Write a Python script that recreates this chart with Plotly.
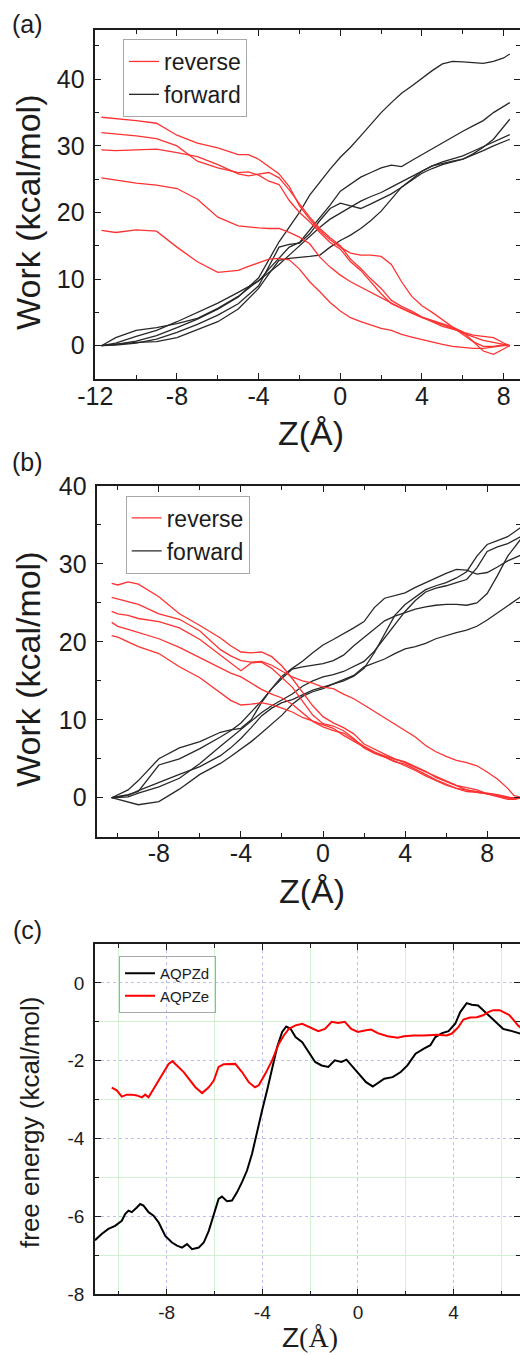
import plotly.graph_objects as go

# ---------------- panel (a): work profiles, pulling range -11.7 .. 8.3 A ----------------
z_a_fwd = [-11.7, -11, -10, -9, -8, -7, -6, -5, -4, -3.5, -3, -2.5, -2, -1.5, -1, -0.5, 0,
           0.5, 1, 1.5, 2, 2.5, 3, 3.5, 4, 4.5, 5, 5.5, 6, 6.5, 7, 7.5, 8, 8.3]
a_fwd_1 = [0, 0.2, 0.7, 1.5, 2.7, 4.0, 5.5, 7.3, 10.2, 12.8, 15.6, 17.8, 20.0, 22.6, 24.6, 26.5, 28.3,
           29.8, 31.5, 33.3, 35.0, 36.5, 37.9, 39.0, 40.2, 41.3, 42.3, 42.7, 42.6, 42.5, 42.4, 42.7, 43.2, 43.8]
a_fwd_2 = [0, 0.4, 1.4, 2.3, 3.6, 5.0, 6.4, 8.0, 9.7, 11.5, 13.2, 14.8, 15.5, 17.4, 19.3, 21.1, 23.2,
           24.3, 25.3, 26.0, 26.7, 27.1, 26.9, 27.8, 28.7, 29.5, 30.4, 31.4, 32.2, 33.0, 33.8, 35.0, 35.9, 36.5]
a_fwd_3 = [0, 0.1, 0.4, 1.0, 2.0, 3.2, 4.6, 6.3, 9.0, 11.8, 14.8, 15.2, 15.4, 16.8, 18.8, 20.6, 21.4,
           21.0, 20.6, 21.3, 22.0, 22.8, 23.8, 24.8, 25.9, 26.6, 27.2, 27.6, 28.0, 28.8, 29.8, 31.0, 32.8, 34.0]
a_fwd_4 = [0, 1.2, 2.3, 2.7, 3.3, 4.1, 5.6, 7.4, 9.8, 11.0, 12.2, 13.6, 15.0, 16.5, 17.8, 19.0, 19.9,
           20.8, 21.7, 22.4, 23.0, 23.8, 24.6, 25.4, 26.3, 27.0, 27.6, 28.0, 28.5, 29.2, 29.9, 30.6, 31.3, 31.7]
a_fwd_5 = [0, 0.2, 0.5, 0.6, 1.2, 2.4, 3.6, 5.5, 8.6, 10.8, 12.8, 13.1, 13.2, 13.4, 13.6, 14.8, 15.8,
           16.6, 17.6, 18.8, 20.2, 22.0, 23.8, 25.0, 26.2, 27.0, 27.4, 27.7, 28.0, 28.6, 29.3, 30.0, 30.6, 31.0]

z_a_rev = [-11.7, -11, -10, -9, -8, -7, -6, -5, -4.5, -4, -3.5, -3, -2.5, -2, -1.5, -1, -0.5, 0,
           0.5, 1, 1.5, 2, 2.5, 3, 3.5, 4, 4.5, 5, 5.5, 6, 6.5, 7, 7.5, 8, 8.3]
a_rev_1 = [34.3, 34.1, 33.8, 33.4, 31.6, 30.4, 29.7, 28.7, 28.7, 28.0, 26.9, 25.8, 23.9, 21.0, 19.0, 17.3, 15.9, 14.8,
           13.9, 13.6, 13.6, 13.4, 12.2, 9.6, 7.4, 6.0, 5.0, 3.9, 2.9, 1.8, 0.6, -0.1, -0.1, 0.15, 0]
a_rev_2 = [32.0, 31.8, 31.5, 31.1, 30.0, 27.7, 26.7, 26.0, 26.1, 25.6, 24.7, 24.2, 21.8, 20.0, 18.6, 17.0, 15.5, 14.5,
           12.6, 11.3, 9.6, 7.8, 6.3, 5.6, 5.0, 4.3, 3.8, 3.3, 2.8, 2.1, 0.6, -0.8, -1.3, -0.5, 0]
a_rev_3 = [29.4, 29.3, 29.4, 29.5, 29.0, 28.4, 27.2, 25.8, 25.5, 25.7, 26.0, 25.2, 23.4, 21.3, 19.3, 17.6, 16.2, 15.0,
           13.0, 11.6, 10.0, 8.6, 6.8, 5.9, 5.2, 4.3, 3.6, 2.9, 2.5, 2.1, 1.6, 1.4, 1.2, 0.4, 0]
a_rev_4 = [25.2, 24.9, 24.4, 24.1, 23.6, 22.0, 19.3, 18.0, 17.8, 17.7, 17.6, 17.6, 17.0, 16.3, 15.3, 13.3, 11.8, 10.6,
           9.6, 8.8, 8.0, 7.2, 6.3, 5.6, 4.9, 4.2, 3.7, 3.2, 2.6, 1.9, 1.3, 0.8, 0.5, 0.2, 0]
a_rev_5 = [17.3, 17.0, 17.4, 17.2, 14.8, 12.6, 11.0, 11.3, 11.9, 12.5, 13.0, 13.1, 12.9, 11.5, 9.6, 8.1, 6.5, 5.2,
           4.2, 3.6, 3.1, 2.6, 2.3, 1.7, 1.3, 0.9, 0.6, 0.2, -0.1, -0.3, -0.4, -0.4, -0.2, 0.0, 0]

# ---------------- panel (b): work profiles, pulling range -10.3 .. 9.7 A ----------------
z_b_fwd = [-10.3, -9.5, -9, -8, -7, -6, -5, -4.5, -4, -3.5, -3, -2.5, -2, -1.5, -1, -0.5, 0,
           0.5, 1, 1.5, 2, 2.5, 3, 3.5, 4, 4.5, 5, 5.5, 6, 6.5, 7, 7.5, 8, 8.5, 9, 9.7]
b_fwd_1 = [0, 0.3, 0.9, 2.0, 3.0, 4.0, 5.4, 6.4, 7.6, 9.0, 10.5, 11.5, 12.2, 12.6, 13.2, 13.8, 14.2,
           14.6, 15.0, 15.6, 16.6, 18.6, 21.0, 23.4, 24.8, 25.8, 26.7, 27.2, 27.6, 28.2, 29.0, 31.0, 32.5, 33.0, 33.5, 34.8]
b_fwd_2 = [0, 1.0, 2.2, 5.0, 6.4, 7.2, 8.4, 8.7, 8.9, 10.0, 12.2, 14.0, 15.3, 16.5, 16.8, 17.0, 17.2,
           17.6, 18.3, 19.5, 20.6, 21.6, 22.7, 23.3, 23.8, 24.2, 24.5, 24.7, 24.8, 24.8, 24.7, 25.0, 26.2, 28.5, 31.0, 33.4]
b_fwd_3 = [0, 0.4, 0.8, 4.2, 5.0, 6.3, 7.8, 8.6, 9.6, 11.0, 12.4, 14.0, 15.6, 16.6, 17.5, 18.6, 19.6,
           20.3, 21.0, 21.8, 22.6, 24.4, 25.6, 26.0, 26.3, 27.0, 27.6, 28.3, 28.8, 29.3, 29.2, 28.7, 28.9, 29.6, 30.4, 31.2]
b_fwd_4 = [0, 0.1, 0.6, 1.4, 2.5, 4.4, 6.6, 7.7, 8.8, 9.9, 10.9, 11.8, 12.6, 13.3, 14.3, 15.0, 15.5,
           15.8, 16.2, 16.8, 17.5, 18.8, 20.5, 22.3, 23.9, 25.3, 26.4, 26.9, 27.2, 27.6, 28.0, 29.5, 31.6, 32.2, 32.6, 33.6]
b_fwd_5 = [0, -0.5, -0.9, -0.5, 1.1, 3.0, 4.4, 5.3, 6.2, 7.2, 8.3, 9.4, 10.6, 12.0, 13.0, 13.6, 14.0,
           14.6, 15.1, 15.7, 16.8, 17.3, 17.8, 18.5, 19.1, 19.4, 19.8, 20.4, 20.8, 21.2, 21.5, 22.0, 22.8, 23.7, 24.6, 25.9]

z_b_rev = [-10.3, -10, -9.5, -9, -8, -7, -6, -5, -4.5, -4, -3.5, -3, -2.5, -2, -1.5, -1, -0.5, 0,
           0.5, 1, 1.5, 2, 2.5, 3, 3.5, 4, 4.5, 5, 5.5, 6, 6.5, 7, 7.5, 8, 8.5, 9, 9.3, 9.7]
b_rev_1 = [27.5, 27.3, 27.7, 27.4, 25.8, 23.6, 22.1, 20.5, 19.5, 18.7, 18.6, 18.7, 18.1, 16.9, 15.3, 13.6, 11.8, 10.4,
           9.6, 9.0, 8.2, 6.9, 6.2, 5.6, 5.0, 4.6, 4.0, 3.4, 2.6, 2.1, 1.6, 1.0, 0.7, 0.5, 0.3, 0.0, 0.0, 0]
b_rev_2 = [25.7, 25.5, 25.2, 24.8, 23.6, 22.9, 21.4, 19.0, 18.2, 17.6, 17.4, 17.5, 17.0, 16.2, 15.5, 15.0, 14.7, 14.2,
           14.0, 13.3, 12.7, 11.9, 11.1, 10.2, 9.5, 8.7, 7.8, 6.7, 5.9, 5.3, 4.8, 4.5, 4.1, 3.3, 2.4, 1.2, 0.3, 0]
b_rev_3 = [23.9, 23.6, 23.4, 23.0, 22.6, 21.8, 20.3, 18.3, 17.2, 16.3, 17.3, 17.4, 16.6, 15.4, 14.2, 12.4, 10.6, 9.5,
           9.2, 8.6, 7.6, 6.4, 5.7, 5.2, 4.6, 4.3, 3.7, 3.0, 2.3, 1.7, 1.2, 0.8, 0.7, 0.5, 0.2, -0.1, -0.2, 0]
b_rev_4 = [22.5, 22.0, 21.6, 21.2, 20.4, 19.3, 18.0, 16.7, 16.0, 15.5, 14.7, 13.9, 13.3, 12.8, 12.0, 10.9, 9.8, 9.1,
           8.6, 8.3, 7.4, 6.6, 5.9, 5.3, 4.8, 4.2, 3.5, 2.8, 2.2, 1.6, 1.2, 1.0, 0.8, 0.6, 0.4, 0.1, -0.1, 0]
b_rev_5 = [20.8, 20.6, 20.0, 19.4, 18.5, 16.8, 15.4, 13.4, 12.5, 11.9, 12.0, 12.2, 11.9, 11.5, 11.0, 10.3, 9.8, 9.3,
           8.9, 8.0, 7.2, 6.5, 5.8, 5.4, 4.9, 4.5, 3.9, 3.3, 2.7, 2.1, 1.6, 1.3, 1.0, 0.5, 0.1, -0.2, -0.2, 0]

# ---------------- panel (c): free energy profiles ----------------
z_aqpzd = [-11.0, -10.72, -10.44, -10.16, -9.88, -9.74, -9.6, -9.46, -9.25, -9.11, -8.97, -8.76, -8.55,
           -8.34, -8.06, -7.78, -7.57, -7.36, -7.15, -6.94, -6.66, -6.45, -6.24, -6.03, -5.83, -5.69,
           -5.48, -5.27, -5.06, -4.85, -4.64, -4.43, -4.22, -4.01, -3.8, -3.59, -3.38, -3.17, -3.0,
           -2.82, -2.61, -2.33, -2.0, -1.79, -1.52, -1.24, -0.97, -0.69, -0.48, -0.21, 0.07, 0.34,
           0.62, 0.9, 1.1, 1.45, 1.79, 2.07, 2.41, 2.76, 3.03, 3.24, 3.52, 3.79, 4.07, 4.28, 4.55,
           4.76, 5.03, 5.24, 5.52, 5.79, 6.07, 6.34, 6.69, 6.9]
g_aqpzd = [-6.61, -6.45, -6.32, -6.24, -6.11, -5.94, -5.85, -5.89, -5.77, -5.68, -5.72, -5.89, -5.98,
           -6.15, -6.5, -6.67, -6.75, -6.8, -6.71, -6.84, -6.8, -6.67, -6.37, -5.94, -5.55, -5.49,
           -5.61, -5.59, -5.38, -5.12, -4.82, -4.39, -3.79, -3.28, -2.76, -2.16, -1.65, -1.26, -1.12,
           -1.18, -1.39, -1.52, -1.82, -2.03, -2.12, -2.16, -1.99, -2.03, -1.97, -2.16, -2.38, -2.55,
           -2.66, -2.55, -2.46, -2.42, -2.29, -2.12, -1.82, -1.69, -1.6, -1.39, -1.29, -1.24, -1.05,
           -0.75, -0.52, -0.56, -0.58, -0.7, -0.86, -1.0, -1.18, -1.22, -1.29, -1.32]
z_aqpze = [-10.3, -10.09, -9.88, -9.67, -9.46, -9.25, -9.04, -8.9, -8.76, -8.55, -8.34, -8.13, -7.92,
           -7.76, -7.57, -7.29, -7.08, -6.8, -6.52, -6.24, -6.03, -5.83, -5.62, -5.41, -5.13, -4.85,
           -4.57, -4.31, -4.15, -3.87, -3.59, -3.31, -3.1, -2.89, -2.61, -2.33, -2.0, -1.66, -1.38,
           -1.1, -0.83, -0.55, -0.28, 0.0, 0.28, 0.55, 0.83, 1.24, 1.66, 1.93, 2.34, 2.76, 3.31,
           3.72, 3.93, 4.21, 4.41, 4.69, 4.97, 5.24, 5.45, 5.66, 5.93, 6.14, 6.34, 6.55, 6.69, 6.9]
g_aqpze = [-2.69, -2.76, -2.92, -2.87, -2.87, -2.89, -2.94, -2.87, -2.94, -2.72, -2.51, -2.29, -2.08,
           -2.01, -2.12, -2.29, -2.46, -2.68, -2.83, -2.68, -2.51, -2.16, -2.09, -2.08, -2.08, -2.29,
           -2.55, -2.68, -2.63, -2.33, -1.99, -1.56, -1.35, -1.18, -1.09, -1.05, -1.15, -1.24, -1.18,
           -1.0, -1.03, -1.0, -1.18, -1.26, -1.22, -1.2, -1.29, -1.37, -1.41, -1.37, -1.35, -1.35, -1.33,
           -1.35, -1.3, -1.13, -0.94, -0.89, -0.88, -0.83, -0.75, -0.7, -0.7, -0.77, -0.83, -0.98, -1.09, -1.2]

# ---------------- tick labels ----------------
a_xticks = [-12, -8, -4, 0, 4, 8]
a_xticklabels = ["-12", "-8", "-4", "0", "4", "8"]
a_xminor = [-10, -6, -2, 2, 6]
ab_yticks = [0, 10, 20, 30, 40]
ab_yticklabels = ["0", "10", "20", "30", "40"]
a_yminor = [-5, 5, 15, 25, 35, 45]
b_xticks = [-8, -4, 0, 4, 8]
b_xticklabels = ["-8", "-4", "0", "4", "8"]
b_xminor = [-10, -6, -2, 2, 6]
b_yminor = [-5, 5, 15, 25, 35]
c_xticks = [-8, -4, 0, 4]
c_xticklabels = ["-8", "-4", "0", "4"]
c_xminor = [-10, -6, -2, 2, 6]
c_yticks = [0, -2, -4, -6, -8]
c_yticklabels = ["0", "-2", "-4", "-6", "-8"]
c_yminor = [-1, -3, -5, -7]

# ---------------- figure ----------------
W, H = 520, 1355
SANS = "Liberation Sans, Arial, sans-serif"
INK = "#1c1c1c"
RED_THIN = "rgb(255,50,50)"
BLACK_THIN = "rgb(40,40,40)"


def fx(px):
    return px / W


def fy(py):
    return 1 - py / H


fig = go.Figure()


def add_curves(z, curves, color, name, xa, ya, legend, rank, width=1.3):
    for i, w in enumerate(curves):
        fig.add_trace(go.Scatter(
            x=z, y=w, mode="lines", name=name,
            line=dict(color=color, width=width),
            xaxis=xa, yaxis=ya, legend=legend, legendrank=rank,
            showlegend=(i == 0), hoverinfo="skip"))


add_curves(z_a_fwd, [a_fwd_1, a_fwd_2, a_fwd_3, a_fwd_4, a_fwd_5], BLACK_THIN, "forward", "x", "y", "legend", 2)
add_curves(z_a_rev, [a_rev_1, a_rev_2, a_rev_3, a_rev_4, a_rev_5], RED_THIN, "reverse", "x", "y", "legend", 1)
add_curves(z_b_fwd, [b_fwd_1, b_fwd_2, b_fwd_3, b_fwd_4, b_fwd_5], BLACK_THIN, "forward", "x2", "y2", "legend2", 2)
add_curves(z_b_rev, [b_rev_1, b_rev_2, b_rev_3, b_rev_4, b_rev_5], RED_THIN, "reverse", "x2", "y2", "legend2", 1)
add_curves(z_aqpzd, [g_aqpzd], "rgb(0,0,0)", "AQPZd", "x3", "y3", "legend3", 1, width=2)
add_curves(z_aqpze, [g_aqpze], "rgb(255,0,0)", "AQPZe", "x3", "y3", "legend3", 2, width=2)


def axis(domain, rng, tickvals, ticktext, minorvals, anchor, size, standoff, grid=False):
    d = dict(
        domain=domain, range=rng, anchor=anchor, automargin=False,
        showline=True, linecolor=INK, linewidth=1.5, mirror="ticks",
        ticks="inside", ticklen=6, tickwidth=1.4, tickcolor=INK,
        tickmode="array", tickvals=tickvals, ticktext=ticktext,
        tickfont=dict(family=SANS, size=size, color=INK),
        ticklabelstandoff=standoff,
        zeroline=False, showgrid=grid, fixedrange=True,
        minor=dict(tickmode="array", tickvals=minorvals, ticks="inside",
                   ticklen=4, tickwidth=1.2, tickcolor=INK, showgrid=grid),
    )
    if grid:
        d["gridcolor"] = "rgb(190,190,245)"
        d["griddash"] = "dot"
        d["gridwidth"] = 1
        d["minor"].update(gridcolor="rgb(208,242,208)", gridwidth=1, griddash="solid")
    return d


def legend_box(left, top, size):
    return dict(x=fx(left), y=fy(top), xanchor="left", yanchor="top",
                bgcolor="rgba(255,255,255,0)", bordercolor="#a8a8a8", borderwidth=1,
                font=dict(family=SANS, size=size, color=INK), tracegroupgap=0, itemwidth=30)


fig.update_layout(
    width=W, height=H,
    margin=dict(l=0, r=0, t=0, b=0, pad=0, autoexpand=False),
    paper_bgcolor="white", plot_bgcolor="white",
    font=dict(family=SANS, color=INK),
    xaxis=axis([fx(95.3), 1], [-12, 8.8], a_xticks, a_xticklabels, a_xminor, "y", 25, -6),
    yaxis=axis([fy(379), fy(30)], [-5, 47.4], ab_yticks, ab_yticklabels, a_yminor, "x", 25, 4),
    xaxis2=axis([fx(97.3), 1], [-11, 9.6], b_xticks, b_xticklabels, b_xminor, "y2", 25, -6),
    yaxis2=axis([fy(836.7), fy(486)], [-5, 40], ab_yticks, ab_yticklabels, b_yminor, "x2", 25, 4),
    xaxis3=axis([fx(95), 1], [-11, 6.78], c_xticks, c_xticklabels, c_xminor, "y3", 19, 0, grid=True),
    yaxis3=axis([fy(1294.3), fy(944)], [-8, 1], c_yticks, c_yticklabels, c_yminor, "x3", 19, 5, grid=True),
    legend=legend_box(123, 39, 23),
    legend2=legend_box(125.7, 495.5, 23),
    legend3=legend_box(119, 956, 15),
    showlegend=True,
)

notes = [
    ("(a)", 27, 24, 25, 0),
    ("(b)", 27, 462, 25, 0),
    ("(c)", 27, 930, 25, 0),
    ("Work (kcal/mol)", 28, 212, 34, -90),
    ("Work (kcal/mol)", 28, 669, 34, -90),
    ("free energy (kcal/mol)", 30, 1123, 26, -90),
    ("Z(Å)", 310.5, 433, 34, 0),
    ("Z(Å)", 312, 891, 34, 0),
    ("Z<span style='font-family:Liberation Serif, Times New Roman, serif'>(Å)</span>", 310, 1337, 28, 0),
]
for text, x, y, size, angle in notes:
    fig.add_annotation(text=text, x=fx(x), y=fy(y), xref="paper", yref="paper",
                       xanchor="center", yanchor="middle", showarrow=False,
                       textangle=angle, font=dict(family=SANS, size=size, color=INK))

fig.write_html("out.html")
